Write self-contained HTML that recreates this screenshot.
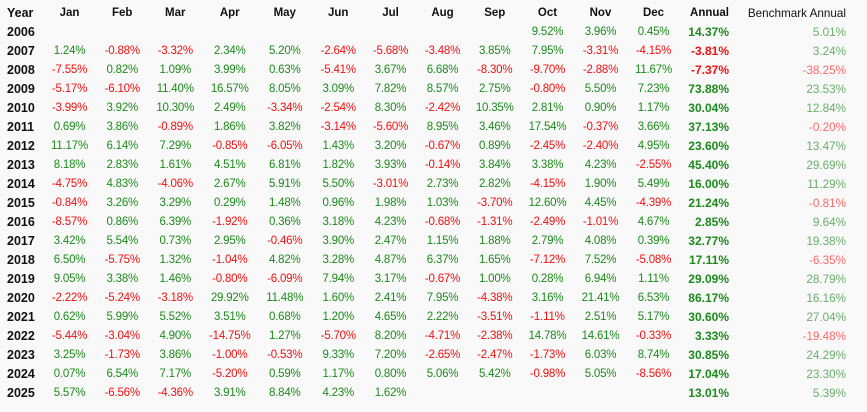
<!DOCTYPE html>
<html><head><meta charset="utf-8">
<style>
html,body{margin:0;padding:0;}
body{width:867px;height:412px;background:#f9f9f9;overflow:hidden;position:relative;font-family:"Liberation Sans",sans-serif;}
table{position:absolute;left:0;top:4px;border-collapse:collapse;table-layout:fixed;width:846px;}
td,th{padding:0;height:19px;line-height:19px;white-space:nowrap;font-size:11.5px;letter-spacing:-0.2px;text-align:center;font-weight:normal;overflow:visible;}
th{font-weight:bold;color:#111;font-size:11.5px;letter-spacing:0;}
td.y,th.y{text-align:left;padding-left:7px;font-weight:bold;color:#111;font-size:12.5px;letter-spacing:0;}
.g{color:#1c8a1c;}
.r{color:#f21010;}
td.a,th.a{text-align:right;font-weight:bold;font-size:12px;letter-spacing:0;}
th.a{font-size:11.5px;}
td.b,th.b{text-align:right;font-size:11.7px;letter-spacing:0;}
th.b{font-weight:normal;color:#111;}
.bg{color:#6aae6a;}
.br{color:#ff6868;}
</style></head><body>
<table>
<colgroup>
<col style="width:43px"><col style="width:53px"><col style="width:52.5px"><col style="width:53.5px"><col style="width:55.5px"><col style="width:54.5px"><col style="width:52.5px"><col style="width:52px"><col style="width:52px"><col style="width:52.5px"><col style="width:53px"><col style="width:53px"><col style="width:53px"><col style="width:49px"><col style="width:117px">
</colgroup>
<tr><th class="y">Year</th><th>Jan</th><th>Feb</th><th>Mar</th><th>Apr</th><th>May</th><th>Jun</th><th>Jul</th><th>Aug</th><th>Sep</th><th>Oct</th><th>Nov</th><th>Dec</th><th class="a">Annual</th><th class="b">Benchmark Annual</th></tr>
<tr><td class="y">2006</td><td></td><td></td><td></td><td></td><td></td><td></td><td></td><td></td><td></td><td class="g">9.52%</td><td class="g">3.96%</td><td class="g">0.45%</td><td class="a g">14.37%</td><td class="b bg">5.01%</td></tr>
<tr><td class="y">2007</td><td class="g">1.24%</td><td class="r">-0.88%</td><td class="r">-3.32%</td><td class="g">2.34%</td><td class="g">5.20%</td><td class="r">-2.64%</td><td class="r">-5.68%</td><td class="r">-3.48%</td><td class="g">3.85%</td><td class="g">7.95%</td><td class="r">-3.31%</td><td class="r">-4.15%</td><td class="a r">-3.81%</td><td class="b bg">3.24%</td></tr>
<tr><td class="y">2008</td><td class="r">-7.55%</td><td class="g">0.82%</td><td class="g">1.09%</td><td class="g">3.99%</td><td class="g">0.63%</td><td class="r">-5.41%</td><td class="g">3.67%</td><td class="g">6.68%</td><td class="r">-8.30%</td><td class="r">-9.70%</td><td class="r">-2.88%</td><td class="g">11.67%</td><td class="a r">-7.37%</td><td class="b br">-38.25%</td></tr>
<tr><td class="y">2009</td><td class="r">-5.17%</td><td class="r">-6.10%</td><td class="g">11.40%</td><td class="g">16.57%</td><td class="g">8.05%</td><td class="g">3.09%</td><td class="g">7.82%</td><td class="g">8.57%</td><td class="g">2.75%</td><td class="r">-0.80%</td><td class="g">5.50%</td><td class="g">7.23%</td><td class="a g">73.88%</td><td class="b bg">23.53%</td></tr>
<tr><td class="y">2010</td><td class="r">-3.99%</td><td class="g">3.92%</td><td class="g">10.30%</td><td class="g">2.49%</td><td class="r">-3.34%</td><td class="r">-2.54%</td><td class="g">8.30%</td><td class="r">-2.42%</td><td class="g">10.35%</td><td class="g">2.81%</td><td class="g">0.90%</td><td class="g">1.17%</td><td class="a g">30.04%</td><td class="b bg">12.84%</td></tr>
<tr><td class="y">2011</td><td class="g">0.69%</td><td class="g">3.86%</td><td class="r">-0.89%</td><td class="g">1.86%</td><td class="g">3.82%</td><td class="r">-3.14%</td><td class="r">-5.60%</td><td class="g">8.95%</td><td class="g">3.46%</td><td class="g">17.54%</td><td class="r">-0.37%</td><td class="g">3.66%</td><td class="a g">37.13%</td><td class="b br">-0.20%</td></tr>
<tr><td class="y">2012</td><td class="g">11.17%</td><td class="g">6.14%</td><td class="g">7.29%</td><td class="r">-0.85%</td><td class="r">-6.05%</td><td class="g">1.43%</td><td class="g">3.20%</td><td class="r">-0.67%</td><td class="g">0.89%</td><td class="r">-2.45%</td><td class="r">-2.40%</td><td class="g">4.95%</td><td class="a g">23.60%</td><td class="b bg">13.47%</td></tr>
<tr><td class="y">2013</td><td class="g">8.18%</td><td class="g">2.83%</td><td class="g">1.61%</td><td class="g">4.51%</td><td class="g">6.81%</td><td class="g">1.82%</td><td class="g">3.93%</td><td class="r">-0.14%</td><td class="g">3.84%</td><td class="g">3.38%</td><td class="g">4.23%</td><td class="r">-2.55%</td><td class="a g">45.40%</td><td class="b bg">29.69%</td></tr>
<tr><td class="y">2014</td><td class="r">-4.75%</td><td class="g">4.83%</td><td class="r">-4.06%</td><td class="g">2.67%</td><td class="g">5.91%</td><td class="g">5.50%</td><td class="r">-3.01%</td><td class="g">2.73%</td><td class="g">2.82%</td><td class="r">-4.15%</td><td class="g">1.90%</td><td class="g">5.49%</td><td class="a g">16.00%</td><td class="b bg">11.29%</td></tr>
<tr><td class="y">2015</td><td class="r">-0.84%</td><td class="g">3.26%</td><td class="g">3.29%</td><td class="g">0.29%</td><td class="g">1.48%</td><td class="g">0.96%</td><td class="g">1.98%</td><td class="g">1.03%</td><td class="r">-3.70%</td><td class="g">12.60%</td><td class="g">4.45%</td><td class="r">-4.39%</td><td class="a g">21.24%</td><td class="b br">-0.81%</td></tr>
<tr><td class="y">2016</td><td class="r">-8.57%</td><td class="g">0.86%</td><td class="g">6.39%</td><td class="r">-1.92%</td><td class="g">0.36%</td><td class="g">3.18%</td><td class="g">4.23%</td><td class="r">-0.68%</td><td class="r">-1.31%</td><td class="r">-2.49%</td><td class="r">-1.01%</td><td class="g">4.67%</td><td class="a g">2.85%</td><td class="b bg">9.64%</td></tr>
<tr><td class="y">2017</td><td class="g">3.42%</td><td class="g">5.54%</td><td class="g">0.73%</td><td class="g">2.95%</td><td class="r">-0.46%</td><td class="g">3.90%</td><td class="g">2.47%</td><td class="g">1.15%</td><td class="g">1.88%</td><td class="g">2.79%</td><td class="g">4.08%</td><td class="g">0.39%</td><td class="a g">32.77%</td><td class="b bg">19.38%</td></tr>
<tr><td class="y">2018</td><td class="g">6.50%</td><td class="r">-5.75%</td><td class="g">1.32%</td><td class="r">-1.04%</td><td class="g">4.82%</td><td class="g">3.28%</td><td class="g">4.87%</td><td class="g">6.37%</td><td class="g">1.65%</td><td class="r">-7.12%</td><td class="g">7.52%</td><td class="r">-5.08%</td><td class="a g">17.11%</td><td class="b br">-6.35%</td></tr>
<tr><td class="y">2019</td><td class="g">9.05%</td><td class="g">3.38%</td><td class="g">1.46%</td><td class="r">-0.80%</td><td class="r">-6.09%</td><td class="g">7.94%</td><td class="g">3.17%</td><td class="r">-0.67%</td><td class="g">1.00%</td><td class="g">0.28%</td><td class="g">6.94%</td><td class="g">1.11%</td><td class="a g">29.09%</td><td class="b bg">28.79%</td></tr>
<tr><td class="y">2020</td><td class="r">-2.22%</td><td class="r">-5.24%</td><td class="r">-3.18%</td><td class="g">29.92%</td><td class="g">11.48%</td><td class="g">1.60%</td><td class="g">2.41%</td><td class="g">7.95%</td><td class="r">-4.38%</td><td class="g">3.16%</td><td class="g">21.41%</td><td class="g">6.53%</td><td class="a g">86.17%</td><td class="b bg">16.16%</td></tr>
<tr><td class="y">2021</td><td class="g">0.62%</td><td class="g">5.99%</td><td class="g">5.52%</td><td class="g">3.51%</td><td class="g">0.68%</td><td class="g">1.20%</td><td class="g">4.65%</td><td class="g">2.22%</td><td class="r">-3.51%</td><td class="r">-1.11%</td><td class="g">2.51%</td><td class="g">5.17%</td><td class="a g">30.60%</td><td class="b bg">27.04%</td></tr>
<tr><td class="y">2022</td><td class="r">-5.44%</td><td class="r">-3.04%</td><td class="g">4.90%</td><td class="r">-14.75%</td><td class="g">1.27%</td><td class="r">-5.70%</td><td class="g">8.20%</td><td class="r">-4.71%</td><td class="r">-2.38%</td><td class="g">14.78%</td><td class="g">14.61%</td><td class="r">-0.33%</td><td class="a g">3.33%</td><td class="b br">-19.48%</td></tr>
<tr><td class="y">2023</td><td class="g">3.25%</td><td class="r">-1.73%</td><td class="g">3.86%</td><td class="r">-1.00%</td><td class="r">-0.53%</td><td class="g">9.33%</td><td class="g">7.20%</td><td class="r">-2.65%</td><td class="r">-2.47%</td><td class="r">-1.73%</td><td class="g">6.03%</td><td class="g">8.74%</td><td class="a g">30.85%</td><td class="b bg">24.29%</td></tr>
<tr><td class="y">2024</td><td class="g">0.07%</td><td class="g">6.54%</td><td class="g">7.17%</td><td class="r">-5.20%</td><td class="g">0.59%</td><td class="g">1.17%</td><td class="g">0.80%</td><td class="g">5.06%</td><td class="g">5.42%</td><td class="r">-0.98%</td><td class="g">5.05%</td><td class="r">-8.56%</td><td class="a g">17.04%</td><td class="b bg">23.30%</td></tr>
<tr><td class="y">2025</td><td class="g">5.57%</td><td class="r">-6.56%</td><td class="r">-4.36%</td><td class="g">3.91%</td><td class="g">8.84%</td><td class="g">4.23%</td><td class="g">1.62%</td><td></td><td></td><td></td><td></td><td></td><td class="a g">13.01%</td><td class="b bg">5.39%</td></tr>
</table>
</body></html>
